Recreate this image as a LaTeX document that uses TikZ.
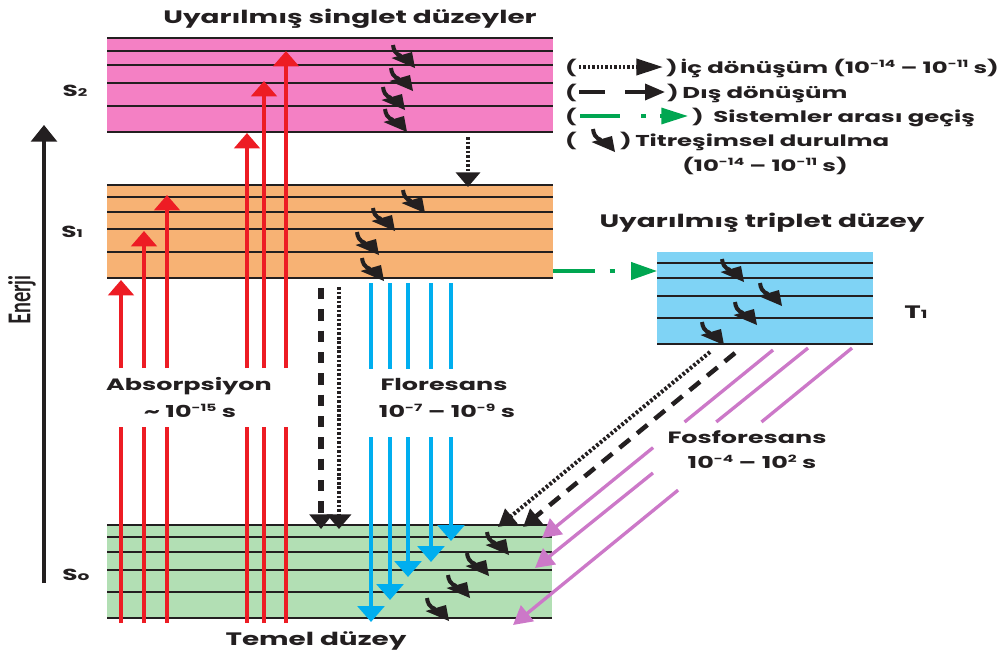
\documentclass[tikz,border=0pt]{standalone}
\usepackage{fontspec}
\usetikzlibrary{arrows.meta,calc}
\newfontfamily\lblfont{Poppins}[FakeStretch=1.55]
\newfontfamily\axisfont{Lato}

\definecolor{pinkS}{RGB}{244,128,196}
\definecolor{orangeS}{RGB}{247,178,116}
\definecolor{blueT}{RGB}{127,211,245}
\definecolor{greenS}{RGB}{178,223,180}
\definecolor{absred}{RGB}{237,28,36}
\definecolor{flcyan}{RGB}{0,174,239}
\definecolor{phosvio}{RGB}{204,120,200}
\definecolor{iscgreen}{RGB}{0,166,81}
\definecolor{ink}{RGB}{35,31,32}

% small raised exponent
\newcommand{\expo}[1]{\raisebox{0.62ex}{\fontsize{7.5}{8}\selectfont #1}}

\tikzset{
  lvl/.style={draw=ink, line width=1.5pt},
  lbl/.style={font=\lblfont\bfseries\fontsize{12.3}{15}\selectfont, text=ink, inner sep=0pt, anchor=base},
  bigl/.style={lbl, font=\lblfont\bfseries\fontsize{13.5}{15}\selectfont},
  keyl/.style={lbl, font=\lblfont\bfseries\fontsize{11.8}{15}\selectfont},
  slbl/.style={lbl, font=\lblfont\bfseries\fontsize{12}{14}\selectfont},
  absorb/.style={draw=absred, line width=3.4pt},
  abshead/.style={absorb, -{Triangle[length=11.5pt,width=19pt]}},
  fluor/.style={draw=flcyan, line width=3pt},
  fluorhead/.style={fluor, -{Triangle[length=12pt,width=20pt]}},
  icdot/.style={draw=ink, line width=3.6pt, dash pattern=on 2pt off 1.4pt, -{Triangle[length=11pt,width=18pt]}},
  ecdash/.style={draw=ink, line width=4pt, dash pattern=on 8.5pt off 7.5pt, -{Triangle[length=11pt,width=17pt]}},
  icdiag/.style={draw=ink, line width=3pt, dash pattern=on 2pt off 1.5pt, -{Triangle[length=13pt,width=14pt]}},
  ecdiag/.style={draw=ink, line width=3.4pt, dash pattern=on 10pt off 7pt, -{Triangle[length=13pt,width=14pt]}},
  phos/.style={draw=phosvio, line width=2.5pt},
  phoshead/.style={phos, -{Triangle[length=14pt,width=15pt]}},
  isc/.style={draw=iscgreen, line width=2.4pt, dash pattern=on 31.5pt off 11pt on 3.75pt off 12pt, -{Triangle[length=19.5pt,width=13pt]}},
  energyaxis/.style={draw=ink, line width=2.3pt, -{Triangle[length=12.5pt,width=19.5pt]}},
  % vibrational relaxation glyph: short hooked stroke and a wide head pointing down-right
  vib/.pic={
    \draw[draw=ink, line width=3pt] (0,0) .. controls (0.5,5) and (2.5,9) .. (8,11);
    \fill[ink] (-1.5,13) -- (19,7) -- (22,23) -- cycle;
  }
}

\begin{document}
\begin{tikzpicture}[x=0.75pt,y=-0.75pt]
\useasboundingbox (0,0) rectangle (1006,651);

% ---- energy levels ----
\fill[pinkS] (107,38) rectangle (553,132);
\foreach \y in {38,51,65,83,106,132} \draw[lvl] (107,\y) -- (553,\y);
\fill[orangeS] (107,185) rectangle (553,278);
\foreach \y in {185,197,212,229,252,278} \draw[lvl] (107,\y) -- (553,\y);
\fill[blueT] (657,252) rectangle (873,344);
\foreach \y in {263,278,296,318,344} \draw[lvl] (657,\y) -- (873,\y);
\fill[greenS] (107,525) rectangle (552,619);
\foreach \y in {525,537,552,570,592,618} \draw[lvl] (107,\y) -- (552,\y);

% ---- level names ----
\node[slbl] (lS2) at (75,96) {S{\fontsize{8}{8}\selectfont 2}};
\node[slbl] (lS1) at (72,237) {S{\fontsize{8}{8}\selectfont 1}};
\node[slbl] (lS0) at (76,580) {S{\fontsize{9}{9}\selectfont o}};
\node[slbl, font=\lblfont\bfseries\fontsize{13.5}{15}\selectfont] (lT1) at (916,318) {T{\fontsize{8.5}{9}\selectfont 1}};

\node[bigl] (tsing) at (350,23) {Uyarılmış singlet düzeyler};
\node[bigl] (ttrip) at (762,227) {Uyarılmış triplet düzey};
\node[bigl] (tgnd) at (316,645) {Temel düzey};

% ---- energy axis ----
\coordinate (eBot) at (44,583);
\coordinate (eTop) at (44,125);
\draw[energyaxis] (eBot) -- (eTop);
\node[rotate=90, font=\axisfont\bfseries\fontsize{14.5}{14}\selectfont, text=ink, inner sep=0pt] (enr) at (22,300) {\scalebox{1}[1.55]{Enerji}};

% ---- absorption ----
\foreach \x/\t in {121/280,144/231,167/195,247/133,264/81,286/51} {
  \draw[absorb] (\x,623) -- (\x,427);
  \draw[abshead] (\x,368) -- (\x,\t);
}
\node[lbl] (labs) at (189,390) {Absorpsiyon};
\node[lbl] (labst) at (190,417) {\textasciitilde\ 10\expo{-15} s};

% ---- fluorescence ----
\foreach \x/\t in {371/622,390/600,408/577,431/562,451/541} {
  \draw[fluor] (\x,283) -- (\x,369);
  \draw[fluorhead] (\x,437) -- (\x,\t);
}
\node[lbl] (lflu) at (444,390) {Floresans};
\node[lbl] (lflut) at (447,417) {10\expo{-7} – 10\expo{-9} s};

% ---- internal / external conversion ----
\draw[icdot] (468,137) -- (468,187);
\draw[ecdash] (321,288) -- (321,529);
\draw[icdot] (339,287) -- (339,529);

% ---- intersystem crossing ----
\coordinate (iscA) at (553,271);
\coordinate (iscB) at (657,271);
\draw[isc] (iscA) -- (iscB);

% ---- triplet decay ----
\draw[icdiag] (710,352) -- (498,527);
\draw[ecdiag] (735,353) -- (523,527);

\coordinate (p1a) at (773,350); \coordinate (p1b) at (542,538);
\coordinate (p2a) at (808,348); \coordinate (p2b) at (535,568);
\coordinate (p3a) at (852,348); \coordinate (p3b) at (513,625);
\draw[phos] (p1a) -- ($(p1a)!0.383!(p1b)$);
\draw[phoshead] ($(p1a)!0.519!(p1b)$) -- (p1b);
\draw[phos] (p2a) -- ($(p2a)!0.336!(p2b)$);
\draw[phoshead] ($(p2a)!0.568!(p2b)$) -- (p2b);
\draw[phos] (p3a) -- ($(p3a)!0.267!(p3b)$);
\draw[phoshead] ($(p3a)!0.513!(p3b)$) -- (p3b);
\node[lbl] (lfos) at (747,443) {Fosforesans};
\node[lbl] (lfost) at (752,468) {10\expo{-4} – 10\expo{2} s};

% ---- vibrational relaxation ----
\foreach \p in {(393,45),(391,68),(383,87),(385,109),
                (403,190),(373,208),(357,232),(362,258),
                (722,259),(760,283),(735,302),(702,322),
                (487,532),(467,553),(448,575),(427,598)}
  \pic at \p {vib};

% ---- legend ----
\node[keyl] (k1o) at (571,73) {(};
\draw[draw=ink, line width=2.8pt, dash pattern=on 1.8pt off 1.5pt, -{Triangle[length=20pt,width=12pt]}] (579,67) -- (663,67);
\node[keyl] (k1c) at (672,73) {)};
\node[keyl, anchor=base west] (k1t) at (680,73) {İç dönüşüm (10\expo{-14} – 10\expo{-11} s)};

\node[keyl] (k2o) at (571,98) {(};
\draw[draw=ink, line width=2.6pt] (579,92) -- (605,92);
\draw[draw=ink, line width=2.6pt, -{Triangle[length=15pt,width=12pt]}] (625,92) -- (665,92);
\node[keyl] (k2c) at (673,98) {)};
\node[keyl, anchor=base west] (k2t) at (682,98) {Dış dönüşüm};

\node[keyl] (k3o) at (571,122) {(};
\draw[draw=iscgreen, line width=2.4pt, dash pattern=on 30pt off 16pt on 3.75pt off 10.5pt, -{Triangle[length=20pt,width=12pt]}] (580,116) -- (688,116);
\node[keyl] (k3c) at (698,122) {)};
\node[keyl, anchor=base west] (k3t) at (713,122) {Sistemler arası geçiş};

\node[keyl] (k4o) at (571,146) {(};
\pic at (593,129) {vib};
\node[keyl] (k4c) at (626,146) {)};
\node[keyl, anchor=base west] (k4t) at (635,146) {Titreşimsel durulma};
\node[keyl] (k5t) at (765,171) {(10\expo{-14} – 10\expo{-11} s)};

\end{tikzpicture}
\end{document}
